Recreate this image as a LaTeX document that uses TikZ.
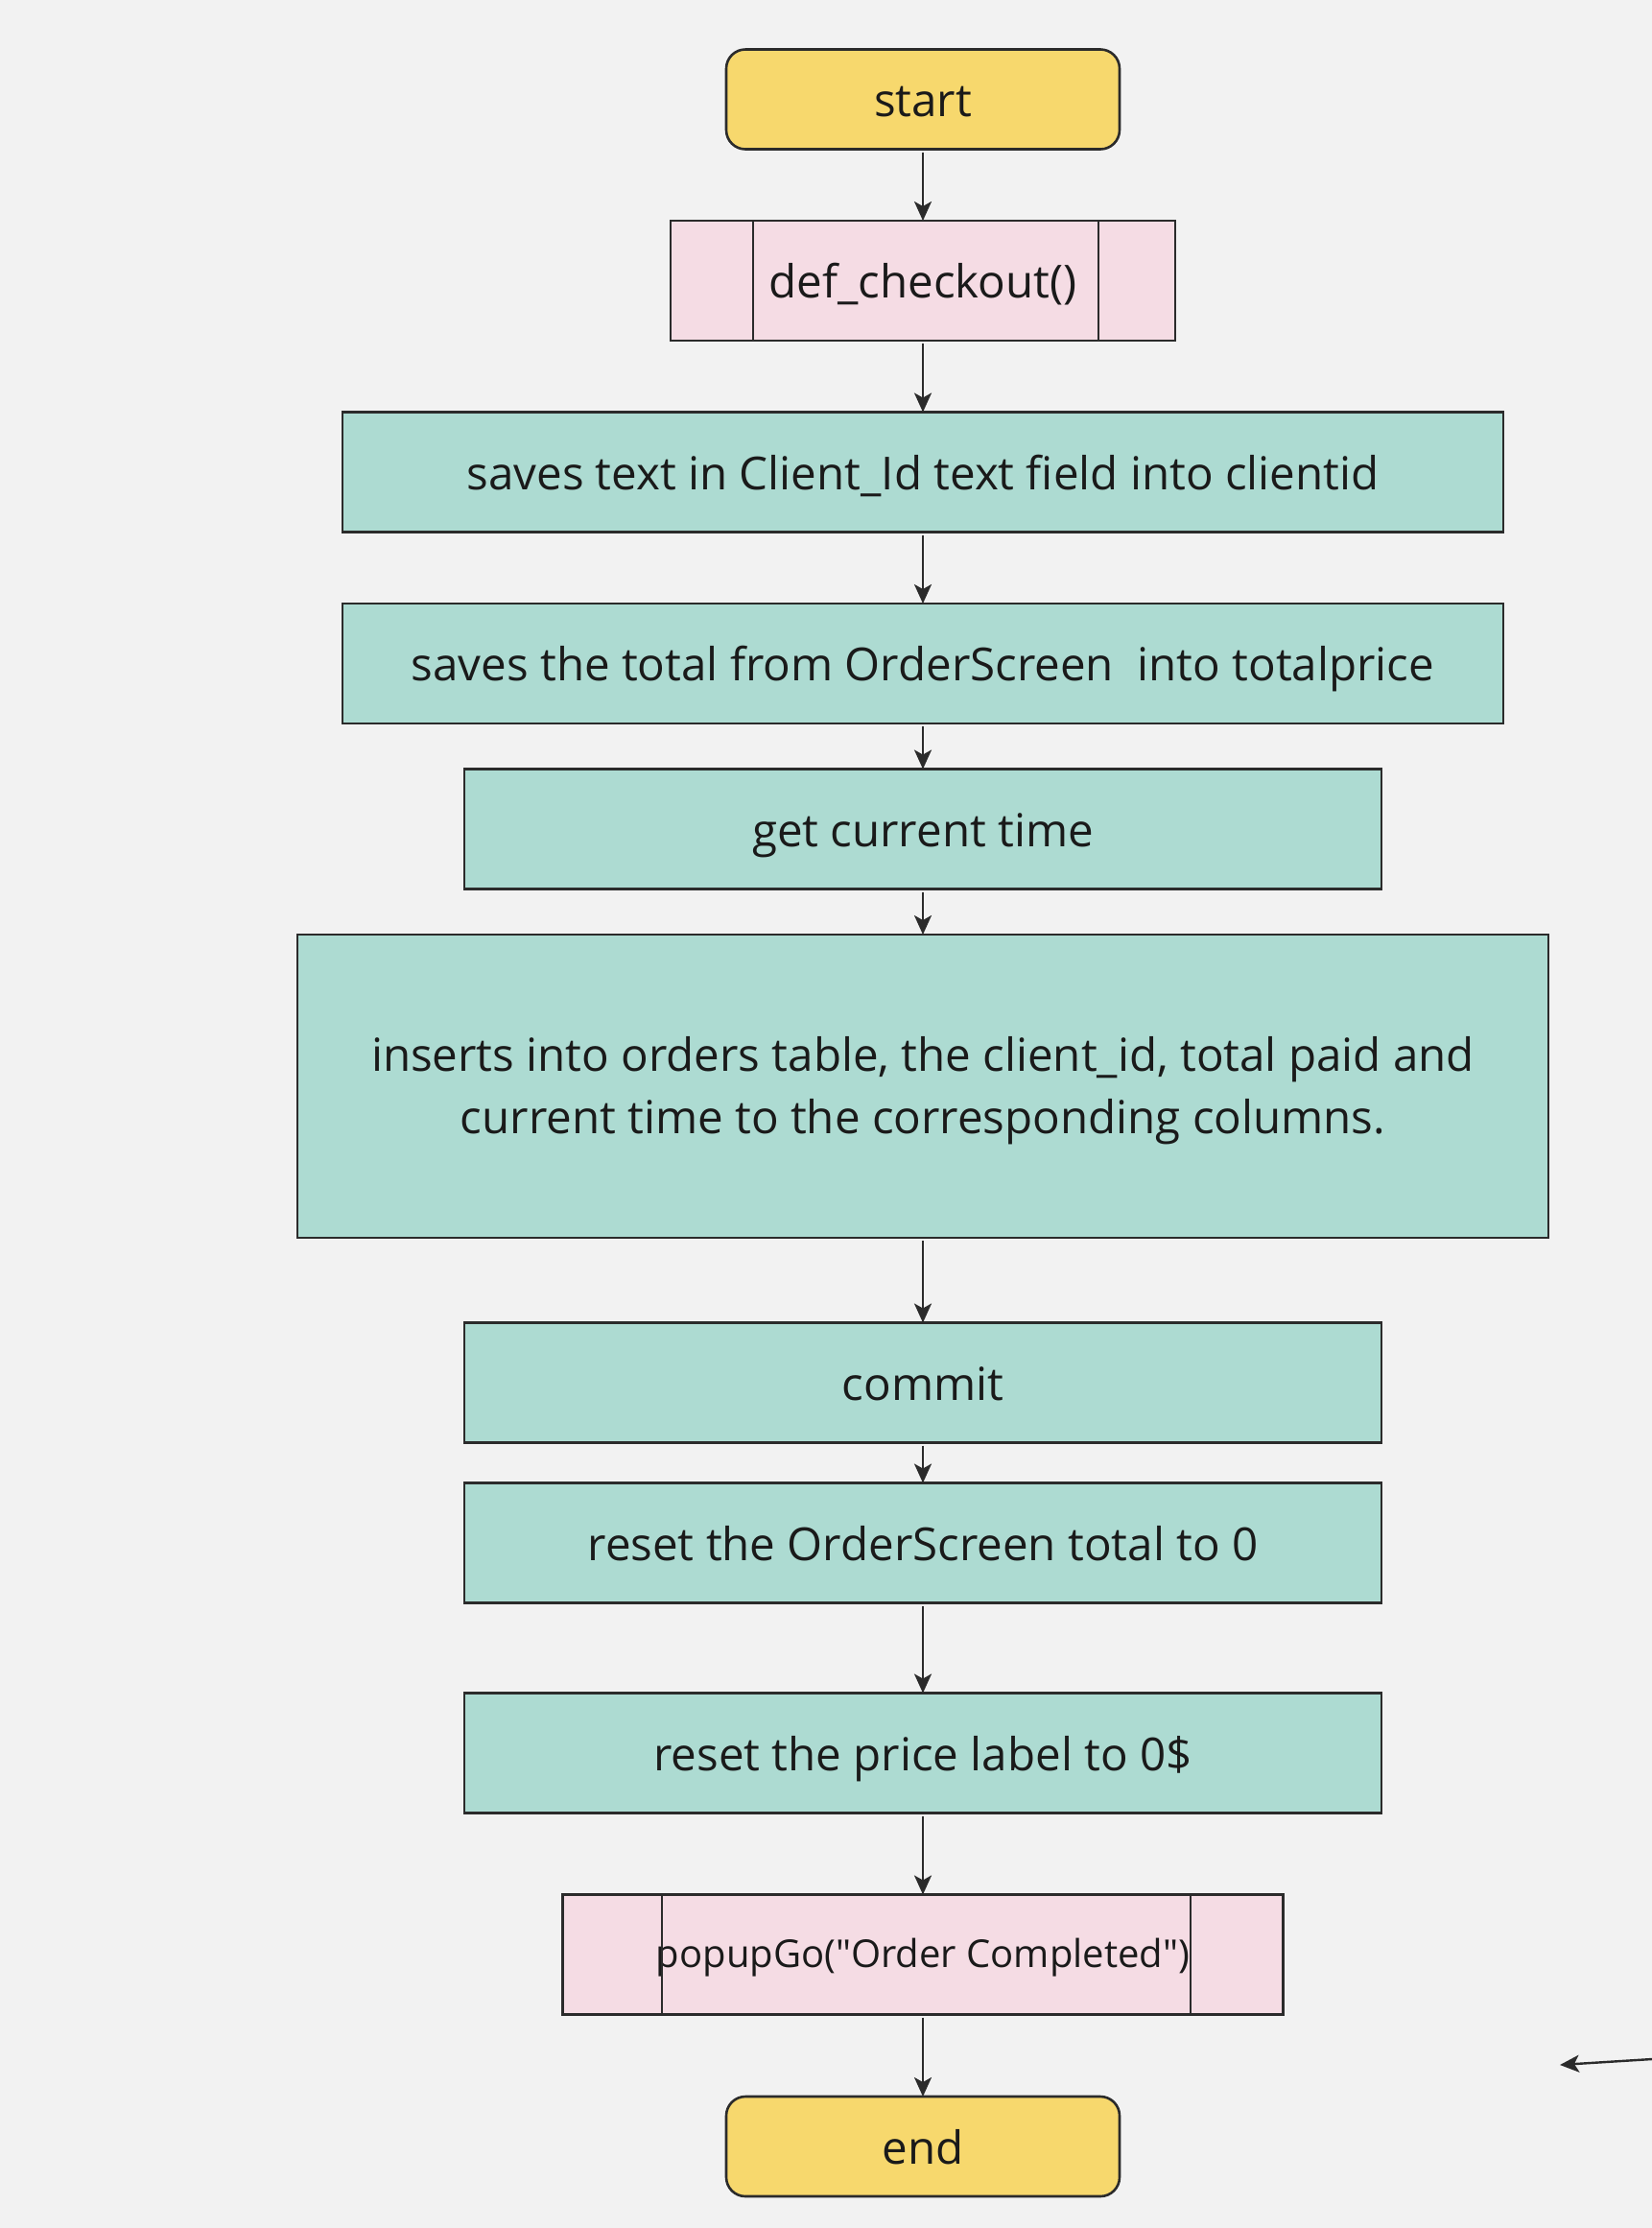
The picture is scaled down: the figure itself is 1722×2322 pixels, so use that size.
\documentclass[tikz,border=0pt]{standalone}
\usepackage{fontspec}
\setmainfont{Open Sans}
\newfontfamily\popfont{Open Sans}
\usetikzlibrary{arrows.meta,calc}
\definecolor{bg}{HTML}{F2F2F2}
\definecolor{ylw}{HTML}{F7D86D}
\definecolor{pnk}{HTML}{F5DCE4}
\definecolor{teal}{HTML}{ADDBD2}
\definecolor{ink}{HTML}{2B2B2B}
\definecolor{txt}{HTML}{1A1A1A}
\begin{document}
\begin{tikzpicture}[x=1pt,y=-1pt,
  base/.style={draw=ink, line width=2.6pt, text=txt, inner sep=0pt, outer sep=0pt, font=\fontsize{47.5}{66}\selectfont, align=center, text height=47pt, text depth=11pt},
  term/.style={base, fill=ylw, rounded corners=20pt, minimum width=410pt, minimum height=104pt},
  proc/.style={base, fill=teal, minimum height=125pt},
  sub/.style={base, fill=pnk, minimum height=125pt},
  conn/.style={draw=ink, line width=2.4pt, -{Stealth[length=20pt, width=18pt, inset=5pt]}, shorten <=3pt}
]
\fill[bg] (0,0) rectangle (1722,2322);
\useasboundingbox (0,0) rectangle (1722,2322);

\node[term] (start) at (962,103.5) {start};
\node[sub, minimum width=526pt] (def) at (962,292.5) {def\_checkout()};
\draw[ink, line width=2.4pt] (785,230) -- (785,355) (1145,230) -- (1145,355);
\node[proc, minimum width=1210pt] (b1) at (962,492) {saves text in Client\_Id text field into clientid};
\node[proc, minimum width=1210pt] (b2) at (962,691.5) {saves the total from OrderScreen\ \ into totalprice};
\node[proc, minimum width=956pt] (b3) at (962,864) {get current time};
\node[proc, minimum width=1304pt, minimum height=316pt, text height=, text depth=,
  label={[font=\fontsize{47.5}{65}\selectfont, text=txt, align=center, yshift=-5pt]center:inserts into orders table, the client\_id, total paid and\\current time to the corresponding columns.}] (b4) at (962,1132) {};
\node[proc, minimum width=956pt] (b5) at (962,1441) {commit};
\node[proc, minimum width=956pt] (b6) at (962,1608) {reset the OrderScreen total to 0};
\node[proc, minimum width=956pt] (b7) at (962,1827) {reset the price label to 0\$};
\node[sub, minimum width=751pt, font=\popfont\fontsize{40}{48}\selectfont, text height=37pt, text depth=11pt] (pop) at (962,2037) {popupGo("Order Completed")};
\draw[ink, line width=2.4pt] (690,1974) -- (690,2100) (1241,1974) -- (1241,2100);
\node[term] (end) at (962,2237) {end};

\draw[conn] (start) -- (def);
\draw[conn] (def) -- (b1);
\draw[conn] (b1) -- (b2);
\draw[conn] (b2) -- (b3);
\draw[conn] (b3) -- (b4);
\draw[conn] (b4) -- (b5);
\draw[conn] (b5) -- (b6);
\draw[conn] (b6) -- (b7);
\draw[conn] (b7) -- (pop);
\draw[conn] (pop) -- (end);

\coordinate (sa) at (1722,2146);
\coordinate (sb) at (1626,2152);
\draw[conn, shorten <=0pt] (sa) -- (sb);
\end{tikzpicture}
\end{document}
